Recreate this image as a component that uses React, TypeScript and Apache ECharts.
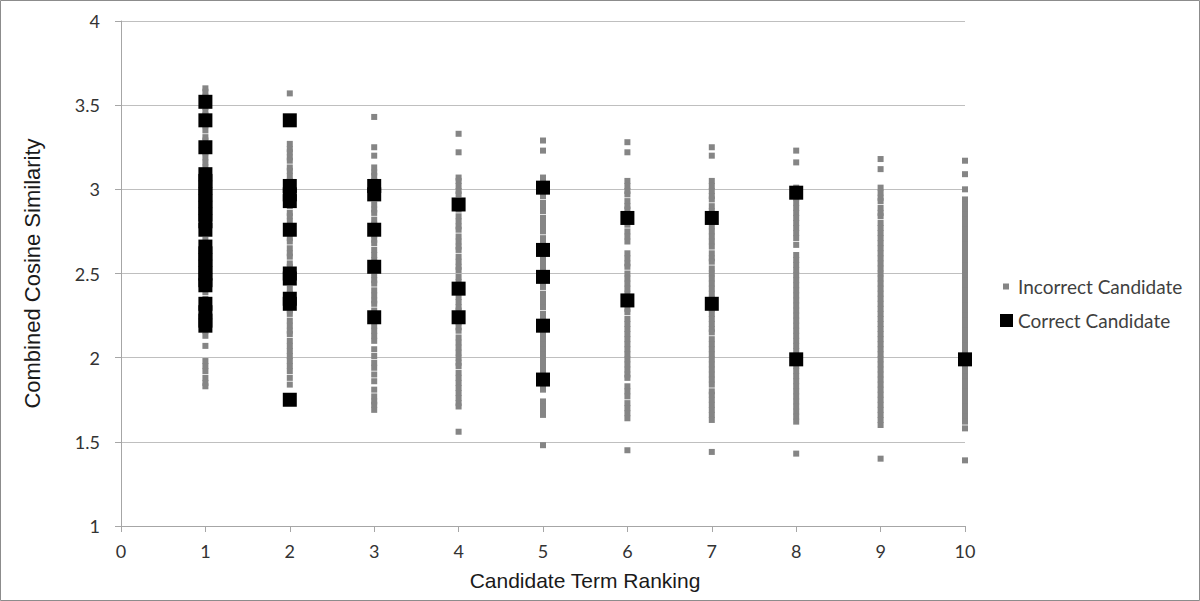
import React, { useEffect, useRef } from "react";
import * as echarts from "echarts";

const xTicks = [0, 1, 2, 3, 4, 5, 6, 7, 8, 9, 10];
const yTicks = [1, 1.5, 2, 2.5, 3, 3.5, 4];

// Incorrect candidates per ranking
const inc1 = [3.6, 3.58, 3.55, 3.49, 3.46, 3.44, 3.38, 3.35, 3.31, 3.29, 3.22, 3.19, 3.16, 3.13, 3.11, 3.06, 3.02, 2.97, 2.94, 2.89, 2.84, 2.8, 2.74, 2.7, 2.66, 2.6, 2.57, 2.52, 2.47, 2.42, 2.39, 2.35, 2.3, 2.25, 2.2, 2.16, 2.13, 2.07, 1.98, 1.95, 1.92, 1.88, 1.85, 1.83];
const inc2 = [3.57, 3.27, 3.24, 3.22, 3.19, 3.17, 3.13, 3.11, 3.08, 3.05, 3.03, 2.99, 2.97, 2.93, 2.9, 2.86, 2.84, 2.81, 2.77, 2.74, 2.71, 2.69, 2.65, 2.62, 2.6, 2.56, 2.54, 2.51, 2.47, 2.45, 2.41, 2.38, 2.35, 2.31, 2.28, 2.26, 2.22, 2.19, 2.16, 2.14, 2.1, 2.07, 2.04, 2.01, 1.98, 1.95, 1.92, 1.88, 1.84];
const inc3 = [3.43, 3.25, 3.2, 3.13, 3.1, 3.08, 3.05, 3.03, 3.0, 2.97, 2.95, 2.91, 2.88, 2.86, 2.82, 2.79, 2.77, 2.73, 2.7, 2.68, 2.64, 2.61, 2.58, 2.56, 2.52, 2.49, 2.46, 2.44, 2.4, 2.37, 2.34, 2.32, 2.28, 2.25, 2.23, 2.19, 2.16, 2.13, 2.1, 2.05, 2.01, 1.97, 1.94, 1.9, 1.86, 1.81, 1.77, 1.74, 1.72, 1.69];
const inc4 = [3.33, 3.22, 3.07, 3.05, 3.02, 2.99, 2.97, 2.93, 2.9, 2.88, 2.84, 2.81, 2.78, 2.76, 2.72, 2.69, 2.66, 2.64, 2.6, 2.57, 2.54, 2.52, 2.48, 2.45, 2.42, 2.39, 2.36, 2.33, 2.3, 2.28, 2.24, 2.21, 2.18, 2.16, 2.12, 2.09, 2.06, 2.03, 2.0, 1.97, 1.95, 1.91, 1.88, 1.85, 1.82, 1.79, 1.76, 1.73, 1.71, 1.56];
const inc5 = [3.29, 3.23, 3.07, 3.04, 3.01, 2.98, 2.96, 2.92, 2.89, 2.87, 2.83, 2.8, 2.77, 2.75, 2.71, 2.68, 2.65, 2.63, 2.59, 2.56, 2.53, 2.5, 2.47, 2.44, 2.42, 2.38, 2.35, 2.32, 2.3, 2.26, 2.23, 2.2, 2.17, 2.14, 2.11, 2.08, 2.05, 2.02, 1.99, 1.96, 1.93, 1.9, 1.87, 1.84, 1.81, 1.74, 1.71, 1.68, 1.66, 1.48];
const inc6 = [3.28, 3.22, 3.05, 3.02, 2.99, 2.97, 2.93, 2.9, 2.88, 2.84, 2.81, 2.79, 2.75, 2.72, 2.69, 2.62, 2.59, 2.56, 2.54, 2.5, 2.47, 2.44, 2.41, 2.38, 2.35, 2.32, 2.29, 2.27, 2.23, 2.2, 2.17, 2.14, 2.11, 2.08, 2.05, 2.02, 1.99, 1.96, 1.93, 1.9, 1.88, 1.83, 1.8, 1.77, 1.73, 1.7, 1.67, 1.64, 1.45];
const inc7 = [3.25, 3.2, 3.05, 3.02, 2.99, 2.96, 2.94, 2.9, 2.87, 2.85, 2.81, 2.78, 2.75, 2.72, 2.69, 2.66, 2.62, 2.59, 2.57, 2.53, 2.5, 2.47, 2.44, 2.41, 2.38, 2.35, 2.32, 2.29, 2.26, 2.23, 2.2, 2.17, 2.15, 2.11, 2.08, 2.05, 2.02, 1.99, 1.96, 1.93, 1.9, 1.87, 1.84, 1.8, 1.78, 1.75, 1.72, 1.69, 1.66, 1.63, 1.44];
const inc8 = [3.23, 3.16, 3.01, 2.98, 2.95, 2.92, 2.89, 2.86, 2.83, 2.8, 2.77, 2.74, 2.71, 2.67, 2.61, 2.58, 2.55, 2.52, 2.49, 2.46, 2.43, 2.4, 2.37, 2.34, 2.31, 2.28, 2.25, 2.22, 2.19, 2.16, 2.13, 2.1, 2.07, 2.04, 2.01, 1.98, 1.95, 1.92, 1.89, 1.86, 1.83, 1.8, 1.77, 1.74, 1.71, 1.68, 1.65, 1.62, 1.43];
const inc9 = [3.18, 3.12, 3.01, 2.98, 2.95, 2.93, 2.89, 2.86, 2.84, 2.8, 2.77, 2.74, 2.71, 2.68, 2.65, 2.62, 2.59, 2.56, 2.53, 2.5, 2.47, 2.44, 2.41, 2.38, 2.35, 2.32, 2.29, 2.26, 2.23, 2.2, 2.17, 2.14, 2.11, 2.08, 2.05, 2.02, 1.99, 1.96, 1.93, 1.9, 1.87, 1.84, 1.81, 1.78, 1.75, 1.72, 1.69, 1.66, 1.63, 1.6, 1.4];
const inc10 = [3.17, 3.09, 3.0, 2.94, 2.91, 2.88, 2.85, 2.82, 2.79, 2.76, 2.73, 2.7, 2.67, 2.64, 2.61, 2.58, 2.55, 2.52, 2.49, 2.46, 2.43, 2.4, 2.37, 2.34, 2.31, 2.28, 2.25, 2.22, 2.19, 2.16, 2.13, 2.1, 2.07, 2.04, 2.01, 1.98, 1.95, 1.92, 1.89, 1.86, 1.83, 1.8, 1.77, 1.74, 1.71, 1.68, 1.65, 1.62, 1.58, 1.39];

// Correct candidates per ranking
const cor1 = [3.52, 3.41, 3.25, 3.09, 3.05, 3.01, 2.97, 2.93, 2.89, 2.85, 2.81, 2.76, 2.66, 2.62, 2.58, 2.54, 2.5, 2.46, 2.43, 2.32, 2.27, 2.22, 2.19];
const cor2 = [3.41, 3.02, 2.97, 2.93, 2.76, 2.5, 2.47, 2.35, 2.32, 1.75];
const cor3 = [3.02, 2.97, 2.76, 2.54, 2.24];
const cor4 = [2.91, 2.41, 2.24];
const cor5 = [3.01, 2.64, 2.48, 2.19, 1.87];
const cor6 = [2.83, 2.34];
const cor7 = [2.83, 2.32];
const cor8 = [2.98, 1.99];
const cor9: number[] = [];
const cor10 = [1.99];

const incorrect = [inc1, inc2, inc3, inc4, inc5, inc6, inc7, inc8, inc9, inc10];
const correct = [cor1, cor2, cor3, cor4, cor5, cor6, cor7, cor8, cor9, cor10];

const toPairs = (lists: number[][]) =>
  lists.flatMap((vals, i) => vals.map((v) => [i + 1, v]));

export default function App() {
  const ref = useRef<HTMLDivElement>(null);
  useEffect(() => {
    if (!ref.current) return;
    const chart = echarts.init(ref.current, null, { renderer: "svg" });
    chart.setOption({
      animation: false,
      backgroundColor: "#ffffff",
      grid: { left: 121, right: 235, top: 21, bottom: 75 },
      graphic: [
        {
          type: "rect",
          shape: { x: 0.5, y: 0.5, width: 1199, height: 600 },
          style: { fill: "none", stroke: "#8c8c8c", lineWidth: 1 },
          silent: true,
        },
      ],
      legend: [
        {
          data: ["Incorrect Candidate"],
          orient: "vertical",
          left: 998,
          top: 272,
          icon: "rect",
          itemWidth: 6,
          itemHeight: 6,
          textStyle: { fontFamily: "Lato", fontSize: 19, color: "#404040", padding: [0, 0, 0, 4] },
        },
        {
          data: ["Correct Candidate"],
          orient: "vertical",
          left: 995,
          top: 306,
          icon: "rect",
          itemWidth: 13,
          itemHeight: 13,
          textStyle: { fontFamily: "Lato", fontSize: 19, color: "#404040" },
        },
      ],
      xAxis: {
        type: "value",
        min: xTicks[0],
        max: xTicks[xTicks.length - 1],
        interval: 1,
        name: "Candidate Term Ranking",
        nameLocation: "middle",
        nameGap: 44,
        nameTextStyle: {
          fontFamily: "Liberation Sans",
          fontSize: 21,
          color: "#1a1a1a",
          padding: [0, 0, 0, 84],
        },
        axisLine: { lineStyle: { color: "#a6a6a6", width: 1 } },
        axisTick: { show: true, inside: false, length: 6, lineStyle: { color: "#a6a6a6" } },
        axisLabel: { margin: 16, fontFamily: "Lato", fontSize: 18, color: "#333333" },
        splitLine: { show: false },
      },
      yAxis: {
        type: "value",
        min: yTicks[0],
        max: yTicks[yTicks.length - 1],
        interval: 0.5,
        name: "Combined Cosine Similarity",
        nameLocation: "middle",
        nameGap: 78,
        nameRotate: 90,
        nameTextStyle: { fontFamily: "Liberation Sans", fontSize: 22, color: "#1a1a1a" },
        axisLine: { show: true, lineStyle: { color: "#a6a6a6", width: 1 } },
        axisTick: { show: true, inside: false, length: 6, lineStyle: { color: "#a6a6a6" } },
        axisLabel: { margin: 21, fontFamily: "Lato", fontSize: 18, color: "#333333" },
        splitLine: { show: true, lineStyle: { color: "#bfbfbf", width: 1 } },
      },
      series: [
        {
          name: "Incorrect Candidate",
          type: "scatter",
          symbol: "rect",
          symbolSize: 6,
          itemStyle: { color: "#858585", opacity: 1 },
          data: toPairs(incorrect),
        },
        {
          name: "Correct Candidate",
          type: "scatter",
          symbol: "rect",
          symbolSize: 14,
          itemStyle: { color: "#000000", opacity: 1 },
          data: toPairs(correct),
        },
      ],
    });
    return () => chart.dispose();
  }, []);
  return (
    <div
      ref={ref}
      style={{ position: "fixed", left: 0, top: 0, width: 1200, height: 601 }}
    />
  );
}
